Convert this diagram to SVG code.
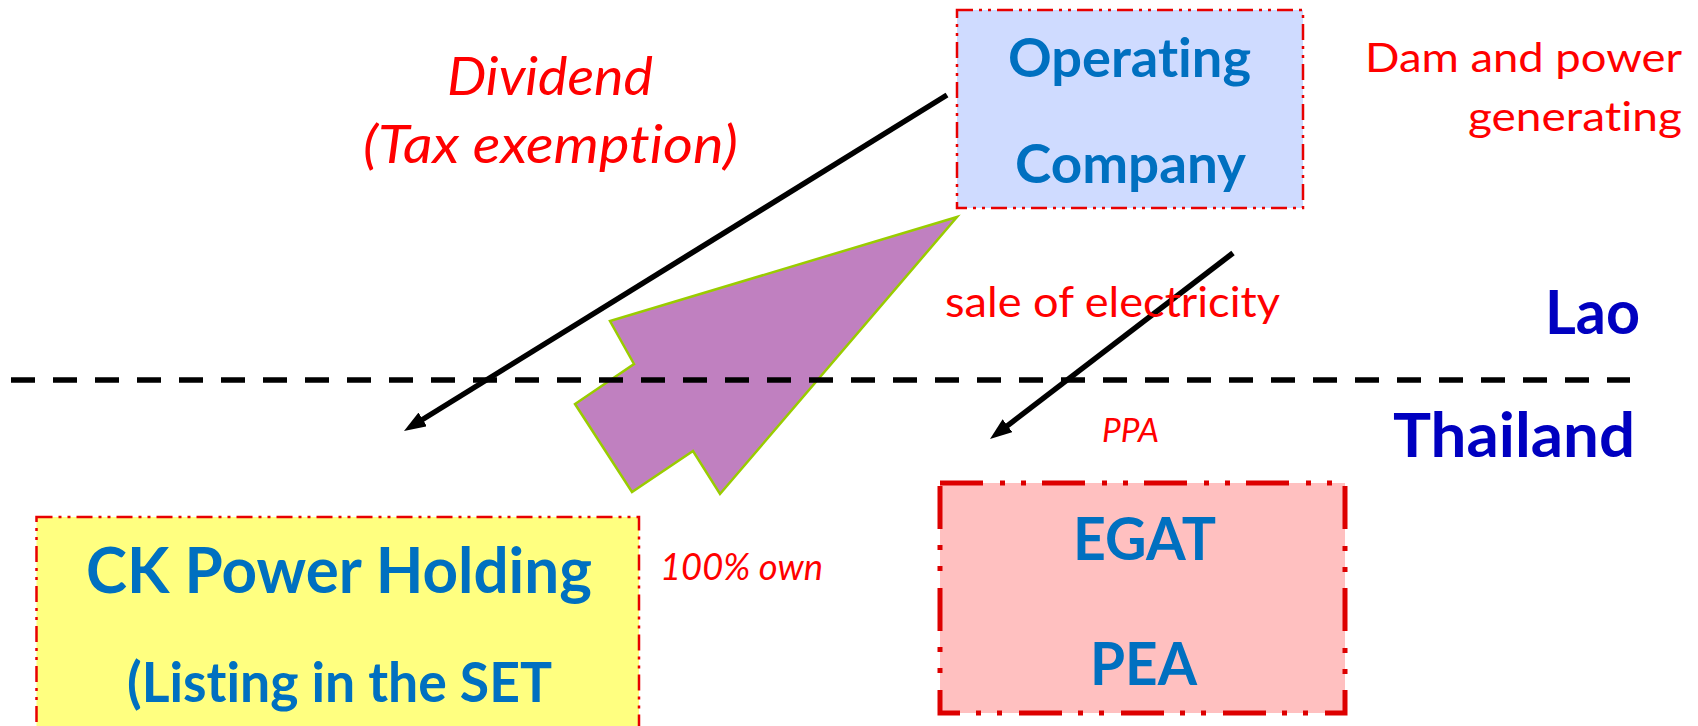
<svg xmlns="http://www.w3.org/2000/svg" width="1698" height="726" viewBox="0 0 1698 726">
<defs>
<style>
.lbl{font-family:Lato,"Open Sans","Liberation Sans",sans-serif;font-variant-ligatures:none;font-feature-settings:"liga" 0,"clig" 0}
.bold{font-weight:700}
.blue{fill:#0070C0}
.navy{fill:#0000C0}
.red{fill:#FF0000}
.it{font-style:italic}
.thin{stroke:#E80000;stroke-width:2.5;stroke-dasharray:16 6 3 6 3 6}
.arrow{stroke:#000;stroke-width:5.5;fill:none}
</style>
<marker id="head" markerUnits="userSpaceOnUse" viewBox="0 0 22 16" refX="4" refY="8" markerWidth="22" markerHeight="16" orient="auto">
<path d="M0,0 L22,8 L0,16 z" fill="#000"/>
</marker>
</defs>
<rect width="1698" height="726" fill="#fff"/>

<g id="operating-company">
<rect x="957" y="10" width="346" height="198" fill="#CFDBFF" class="thin"/>
<text class="lbl bold blue" x="1008" y="77" font-size="54" textLength="243" lengthAdjust="spacingAndGlyphs">Operating</text>
<text class="lbl bold blue" x="1015" y="183" font-size="54" textLength="231" lengthAdjust="spacingAndGlyphs">Company</text>
</g>

<g id="ck-power">
<rect x="36.5" y="517" width="602.5" height="240" fill="#FFFF80" class="thin"/>
<text class="lbl bold blue" x="86" y="593" font-size="64" textLength="506" lengthAdjust="spacingAndGlyphs">CK Power Holding</text>
<text class="lbl bold blue" x="127" y="702" font-size="55" textLength="425" lengthAdjust="spacingAndGlyphs">(Listing in the SET</text>
</g>

<g id="egat-pea">
<rect x="940" y="483" width="405" height="230" fill="#FFC0C0" stroke="#DD0000" stroke-width="5" stroke-dasharray="43 17 5 16 5 16"/>
<text class="lbl bold blue" x="1073" y="560" font-size="60" textLength="143" lengthAdjust="spacingAndGlyphs">EGAT</text>
<text class="lbl bold blue" x="1090" y="685" font-size="60" textLength="107" lengthAdjust="spacingAndGlyphs">PEA</text>
</g>

<g id="ownership-arrow">
<polygon points="957,217 610,321 634,364 575,404 632,492 693,451 720,494" fill="#C080C0" stroke="#99CC00" stroke-width="2.5" stroke-linejoin="miter"/>
</g>

<g id="border">
<line x1="11" y1="380" x2="1630" y2="380" stroke="#000" stroke-width="5.5" stroke-dasharray="24 18"/>
</g>

<g id="connectors">
<line class="arrow" x1="947" y1="95" x2="419.3" y2="421.5" marker-end="url(#head)"/>
<line class="arrow" x1="1233" y1="253" x2="1004.3" y2="428.1" marker-end="url(#head)"/>
</g>

<g id="labels">
<text class="lbl it red" x="447" y="95" font-size="53" textLength="206" lengthAdjust="spacingAndGlyphs">Dividend</text>
<text class="lbl it red" x="363" y="163" font-size="53" textLength="375" lengthAdjust="spacingAndGlyphs">(Tax exemption)</text>
<text class="lbl red" x="1365" y="72" font-size="40" textLength="317" lengthAdjust="spacingAndGlyphs">Dam and power</text>
<text class="lbl red" x="1468" y="131" font-size="40" textLength="214" lengthAdjust="spacingAndGlyphs">generating</text>
<text class="lbl red" x="945" y="317" font-size="42" textLength="335" lengthAdjust="spacingAndGlyphs">sale of electricity</text>
<text class="lbl it red" x="1102" y="442" font-size="32" textLength="57" lengthAdjust="spacingAndGlyphs">PPA</text>
<text class="lbl it red" x="660" y="580" font-size="36" textLength="163" lengthAdjust="spacingAndGlyphs">100% own</text>
<text class="lbl bold navy" x="1545" y="334" font-size="61" textLength="95" lengthAdjust="spacingAndGlyphs">Lao</text>
<text class="lbl bold navy" x="1393" y="457" font-size="62" textLength="242" lengthAdjust="spacingAndGlyphs">Thailand</text>
</g>
</svg>
